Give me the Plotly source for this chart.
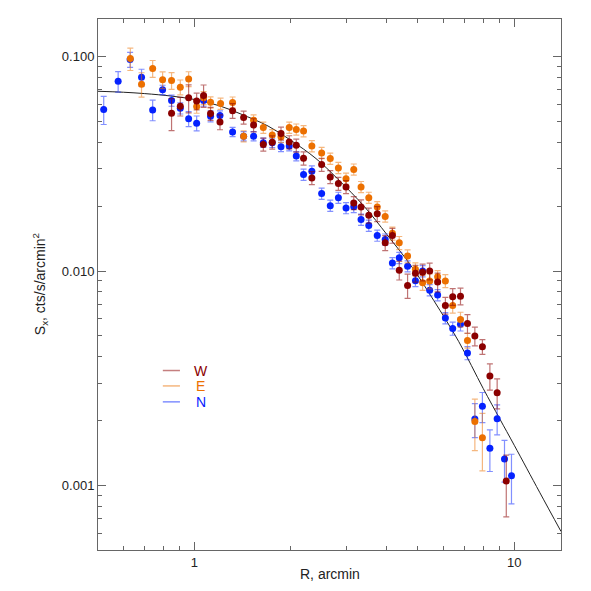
import plotly.graph_objects as go

# radius (arcmin) and surface brightness (cts/s/arcmin^2), three sectors
r_w = [0.849, 0.904, 0.960, 1.017, 1.069, 1.124, 1.203, 1.317, 1.426, 1.532,
       1.643, 1.752, 1.866, 1.98, 2.083, 2.195, 2.33, 2.5, 2.66, 2.82,
       2.98, 3.15, 3.32, 3.51, 3.73, 3.95, 4.16, 4.37, 4.64, 4.91,
       5.17, 5.44, 5.76, 6.09, 6.42, 6.79, 7.14, 7.53, 7.95, 8.39, 8.84, 9.44]
s_w = [0.0545, 0.0588, 0.0643, 0.0621, 0.0659, 0.0543, 0.0496, 0.056, 0.0521, 0.048,
       0.039, 0.0399, 0.0439, 0.0400, 0.0386, 0.0336, 0.0272, 0.0314, 0.0275, 0.0256,
       0.0247, 0.0208, 0.0199, 0.0182, 0.0185, 0.01355, 0.01466, 0.0101, 0.00857, 0.00976,
       0.00989, 0.0100, 0.00889, 0.00692, 0.0076, 0.00764, 0.0057, 0.00498, 0.00444, 0.00324,
       0.00271, 0.00105]
relerr_w = [0.17, 0.10, 0.15, 0.09, 0.12, 0.07, 0.08, 0.08, 0.07, 0.07,
            0.07, 0.07, 0.07, 0.07, 0.07, 0.07, 0.07, 0.07, 0.07, 0.07,
            0.07, 0.07, 0.08, 0.08, 0.08, 0.08, 0.08, 0.10, 0.13, 0.09,
            0.09, 0.09, 0.10, 0.09, 0.09, 0.09, 0.10, 0.10, 0.08, 0.14,
            0.16, 0.32]

r_e = [0.631, 0.684, 0.741, 0.796, 0.849, 0.904, 0.960, 1.017, 1.069, 1.124,
       1.208, 1.317, 1.426, 1.532, 1.643, 1.752, 1.866, 1.98, 2.083, 2.195,
       2.33, 2.5, 2.66, 2.82, 2.98, 3.15, 3.32, 3.51, 3.73, 3.95,
       4.16, 4.37, 4.64, 4.91, 5.17, 5.44, 5.76, 6.09, 6.42, 6.79,
       7.14, 7.53, 7.95]
s_e = [0.098, 0.0745, 0.0881, 0.078, 0.0774, 0.0721, 0.0788, 0.0586, 0.0643, 0.0613,
       0.0605, 0.0612, 0.0426, 0.0505, 0.0467, 0.0431, 0.0423, 0.0467, 0.0458, 0.045,
       0.0383, 0.0356, 0.0335, 0.0303, 0.027, 0.0298, 0.0247, 0.022, 0.0199, 0.018,
       0.0150, 0.01355, 0.01175, 0.0102, 0.00883, 0.00898, 0.0094, 0.009, 0.00692, 0.00595,
       0.00475, 0.00199, 0.00167]
relerr_e = [0.12, 0.13, 0.09, 0.09, 0.09, 0.08, 0.08, 0.07, 0.07, 0.06,
            0.06, 0.06, 0.06, 0.06, 0.06, 0.06, 0.06, 0.06, 0.06, 0.06,
            0.06, 0.06, 0.06, 0.06, 0.06, 0.06, 0.06, 0.06, 0.06, 0.06,
            0.07, 0.07, 0.07, 0.07, 0.08, 0.08, 0.07, 0.07, 0.08, 0.08,
            0.08, 0.27, 0.30]

r_n = [0.521, 0.578, 0.630, 0.684, 0.741, 0.796, 0.849, 0.904, 0.960, 1.017,
       1.069, 1.124, 1.203, 1.317, 1.426, 1.532, 1.643, 1.752, 1.866, 1.98,
       2.083, 2.195, 2.33, 2.5, 2.66, 2.82, 2.98, 3.15, 3.32, 3.51,
       3.73, 3.95, 4.16, 4.37, 4.64, 4.91, 5.17, 5.44, 5.76, 6.09,
       6.42, 6.79, 7.14, 7.53, 7.95, 8.39, 8.84, 9.32, 9.8]
s_n = [0.0568, 0.0768, 0.097, 0.0802, 0.0565, 0.0701, 0.0625, 0.0575, 0.0513, 0.049,
       0.0625, 0.0528, 0.0532, 0.0446, 0.0426, 0.0426, 0.0397, 0.0397, 0.038, 0.0383,
       0.0344, 0.0282, 0.0292, 0.023, 0.0202, 0.022, 0.0197, 0.01995, 0.0174, 0.0163,
       0.01466, 0.01405, 0.0109, 0.01154, 0.01054, 0.00901, 0.0100, 0.00815, 0.00773, 0.00604,
       0.0054, 0.00565, 0.00415, 0.00204, 0.00234, 0.00149, 0.00205, 0.00133, 0.00111]
relerr_n = [0.15, 0.11, 0.08, 0.09, 0.11, 0.05, 0.06, 0.06, 0.08, 0.08,
            0.06, 0.06, 0.05, 0.05, 0.05, 0.05, 0.05, 0.05, 0.05, 0.05,
            0.05, 0.06, 0.06, 0.06, 0.06, 0.06, 0.06, 0.06, 0.06, 0.06,
            0.06, 0.06, 0.06, 0.06, 0.06, 0.06, 0.06, 0.06, 0.06, 0.06,
            0.07, 0.07, 0.07, 0.18, 0.16, 0.22, 0.16, 0.22, 0.26]

# model profile
r_model = [0.5, 0.6, 0.7, 0.85, 1.0, 1.2, 1.4, 1.7, 2.0, 2.4, 2.8, 3.4, 4.0,
           4.8, 5.6, 6.7, 8.0, 9.0, 10.0, 12.0, 14.0]
s_model = [0.0690, 0.0683, 0.0673, 0.0655, 0.0632, 0.0590, 0.0540, 0.0475, 0.0408,
           0.0335, 0.0270, 0.0200, 0.0148, 0.0104, 0.0073, 0.0047, 0.00283, 0.00205,
           0.00154, 0.00093, 0.00061]

x_ticks = [1, 10]
x_ticktext = ["1", "10"]
x_minor = [0.6, 0.7, 0.8, 0.9, 2, 3, 4, 5, 6, 7, 8, 9]
y_ticks = [0.001, 0.01, 0.1]
y_ticktext = ["0.001", "0.010", "0.100"]
y_minor = [0.0006, 0.0007, 0.0008, 0.0009, 0.002, 0.003, 0.004, 0.005, 0.006,
           0.007, 0.008, 0.009, 0.02, 0.03, 0.04, 0.05, 0.06, 0.07, 0.08, 0.09]

sectors = [
    ("N", r_n, s_n, relerr_n, "#0522FF", "rgba(5,34,255,0.5)"),
    ("E", r_e, s_e, relerr_e, "#EC7000", "rgba(236,112,0,0.5)"),
    ("W", r_w, s_w, relerr_w, "#8B0000", "rgba(139,0,0,0.55)"),
]

fig = go.Figure()

fig.add_trace(go.Scatter(
    x=r_model, y=s_model, mode="lines", line=dict(color="#222", width=1, shape="spline"),
    showlegend=False, hoverinfo="skip"
))

for name, r, s, rel, col, errcol in sectors:
    fig.add_trace(go.Scatter(
        x=r, y=s, mode="markers", name=name,
        marker=dict(color=col, size=7),
        error_y=dict(type="data", array=[v * e for v, e in zip(s, rel)],
                     color=errcol, thickness=1.2, width=3),
        showlegend=False
    ))

axis_common = dict(
    type="log", showgrid=False, zeroline=False,
    showline=True, linecolor="#666", linewidth=1, mirror="allticks",
    ticks="inside", ticklen=8, tickcolor="#666", tickwidth=1,
    tickfont=dict(family="Liberation Sans, Arial", size=13, color="#222"),
)

# the page adds an 8px body margin, so the figure is a little smaller than the window
fig.update_layout(
    width=575, height=575,
    margin=dict(l=90, r=22, t=11, b=33),
    paper_bgcolor="white", plot_bgcolor="white",
    xaxis=dict(range=[-0.301, 1.146], tickmode="array", tickvals=x_ticks,
               ticktext=x_ticktext,
               minor=dict(tickmode="array", tickvals=x_minor, ticks="inside",
                          ticklen=4, tickcolor="#666", showgrid=False),
               **axis_common),
    yaxis=dict(range=[-3.301, -0.824], tickmode="array", tickvals=y_ticks,
               ticktext=y_ticktext,
               minor=dict(tickmode="array", tickvals=y_minor, ticks="inside",
                          ticklen=4, tickcolor="#666", showgrid=False),
               **axis_common),
    showlegend=False,
    font=dict(family="Liberation Sans, Arial", color="#222"),
)

# axis titles
fig.add_annotation(text="R, arcmin", xref="paper", yref="paper", x=0.5, y=-0.046,
                   xanchor="center", yanchor="middle", showarrow=False,
                   font=dict(size=14, color="#222"))
fig.add_annotation(text="S<sub>x</sub>, cts/s/arcmin<sup>2</sup>", xref="paper",
                   yref="paper", x=-0.126, y=0.5, textangle=-90,
                   xanchor="center", yanchor="middle", showarrow=False,
                   font=dict(size=14, color="#222"))

# hand-made legend
legend_rows = [("W", "#8B0000", "rgba(139,0,0,0.5)", 0.338),
               ("E", "#EC7000", "rgba(236,112,0,0.5)", 0.309),
               ("N", "#0522FF", "rgba(5,34,255,0.5)", 0.279)]
for label, col, lcol, yy in legend_rows:
    fig.add_shape(type="line", xref="paper", yref="paper", x0=0.140, x1=0.177,
                  y0=yy, y1=yy, line=dict(color=lcol, width=1.5))
    fig.add_annotation(text=label, xref="paper", yref="paper", x=0.222, y=yy,
                       xanchor="center", yanchor="middle", showarrow=False,
                       font=dict(size=14, color=col))

fig.write_html("out.html")
